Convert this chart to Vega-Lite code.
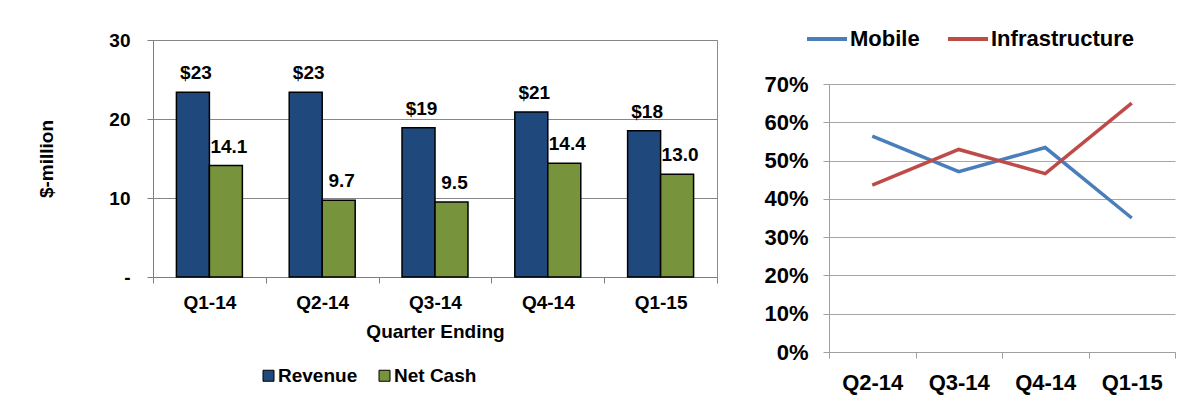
{
  "$schema": "https://vega.github.io/schema/vega-lite/v6.json",
  "padding": {"left": 37, "top": 17, "right": 5, "bottom": 5},
  "background": "white",
  "spacing": 45,
  "config": {"font": "Liberation Sans"},
  "resolve": {"scale": {"color": "independent"}, "legend": {"color": "independent"}},
  "hconcat": [
    {
      "width": 564,
      "height": 237,
      "view": {"stroke": "#8c8c8c"},
      "data": {"values": [
        {"quarter": "Q1-14", "series": "Revenue", "value": 23.4, "label": "$23"},
        {"quarter": "Q1-14", "series": "Net Cash", "value": 14.1, "label": "14.1"},
        {"quarter": "Q2-14", "series": "Revenue", "value": 23.4, "label": "$23"},
        {"quarter": "Q2-14", "series": "Net Cash", "value": 9.7, "label": "9.7"},
        {"quarter": "Q3-14", "series": "Revenue", "value": 18.9, "label": "$19"},
        {"quarter": "Q3-14", "series": "Net Cash", "value": 9.5, "label": "9.5"},
        {"quarter": "Q4-14", "series": "Revenue", "value": 20.9, "label": "$21"},
        {"quarter": "Q4-14", "series": "Net Cash", "value": 14.4, "label": "14.4"},
        {"quarter": "Q1-15", "series": "Revenue", "value": 18.5, "label": "$18"},
        {"quarter": "Q1-15", "series": "Net Cash", "value": 13.0, "label": "13.0"}
      ]},
      "encoding": {
        "x": {
          "field": "quarter", "type": "nominal", "sort": null,
          "scale": {"paddingInner": 0, "paddingOuter": 0},
          "title": "Quarter Ending",
          "axis": {
            "tickBand": "extent", "labelAngle": 0, "grid": false,
            "labelFontSize": 19, "labelFontWeight": "bold", "labelColor": "black",
            "labelPadding": 10, "tickSize": 6, "tickColor": "#7f7f7f", "domainColor": "#7f7f7f",
            "titleFontSize": 19, "titleFontWeight": "bold", "titleColor": "black", "titlePadding": 10
          }
        },
        "xOffset": {
          "field": "series", "type": "nominal", "sort": ["Revenue", "Net Cash"],
          "scale": {"paddingInner": 0, "paddingOuter": 0.71}
        },
        "y": {
          "field": "value", "type": "quantitative",
          "scale": {"domain": [0, 30]},
          "title": "$-million",
          "axis": {
            "values": [0, 10, 20, 30],
            "labelExpr": "datum.value == 0 ? '-' : datum.label",
            "labelFontSize": 19, "labelFontWeight": "bold", "labelColor": "black",
            "labelPadding": 17, "tickSize": 6, "tickColor": "#7f7f7f", "domainColor": "#7f7f7f",
            "gridColor": "#868686", "gridOpacity": 1,
            "titleFontSize": 19, "titleFontWeight": "bold", "titleColor": "black", "titlePadding": 52
          }
        }
      },
      "layer": [
        {
          "mark": {"type": "bar", "stroke": "black", "strokeWidth": 1.5},
          "encoding": {
            "color": {
              "field": "series", "type": "nominal",
              "scale": {"domain": ["Revenue", "Net Cash"], "range": ["#1F497D", "#77933C"]},
              "legend": {
                "orient": "none", "legendX": 106, "legendY": 326, "direction": "horizontal",
                "title": null, "symbolType": "square", "symbolSize": 121,
                "symbolStrokeColor": "black", "symbolStrokeWidth": 1, "symbolOpacity": 1,
                "labelFontSize": 19, "labelFontWeight": "bold", "labelColor": "black",
                "labelOffset": 0, "columnPadding": 17
              }
            }
          }
        },
        {
          "mark": {"type": "text", "baseline": "bottom", "dy": -9, "dx": 3, "fontSize": 19, "fontWeight": "bold", "color": "black"},
          "encoding": {"text": {"field": "label"}}
        }
      ]
    },
    {
      "width": 346,
      "height": 312,
      "view": {"stroke": null},
      "data": {"values": [
        {"quarter": "Q2-14", "series": "Mobile", "share": 0.564},
        {"quarter": "Q3-14", "series": "Mobile", "share": 0.471},
        {"quarter": "Q4-14", "series": "Mobile", "share": 0.534},
        {"quarter": "Q1-15", "series": "Mobile", "share": 0.350},
        {"quarter": "Q2-14", "series": "Infrastructure", "share": 0.436},
        {"quarter": "Q3-14", "series": "Infrastructure", "share": 0.529},
        {"quarter": "Q4-14", "series": "Infrastructure", "share": 0.466},
        {"quarter": "Q1-15", "series": "Infrastructure", "share": 0.650}
      ]},
      "mark": {"type": "line", "strokeWidth": 3.5},
      "encoding": {
        "x": {
          "field": "quarter", "type": "nominal", "sort": null,
          "scale": {"type": "band", "paddingInner": 0, "paddingOuter": 0},
          "title": null,
          "axis": {
            "tickBand": "extent", "labelAngle": 0, "grid": false,
            "labelFontSize": 22, "labelFontWeight": "bold", "labelColor": "black",
            "labelPadding": 14, "tickSize": 6, "tickColor": "#a0a0a0", "domainColor": "#a0a0a0"
          }
        },
        "y": {
          "field": "share", "type": "quantitative",
          "scale": {"domain": [0, 0.7], "range": [312, 44]},
          "title": null,
          "axis": {
            "values": [0, 0.1, 0.2, 0.3, 0.4, 0.5, 0.6, 0.7], "format": ".0%",
            "labelFontSize": 22, "labelFontWeight": "bold", "labelColor": "black",
            "labelPadding": 15, "tickSize": 6, "tickColor": "#a0a0a0", "domainColor": "#a0a0a0",
            "gridColor": "#a6a6a6", "gridOpacity": 1
          }
        },
        "color": {
          "field": "series", "type": "nominal",
          "scale": {"domain": ["Mobile", "Infrastructure"], "range": ["#4A7EBB", "#BE4B48"]},
          "legend": {
            "orient": "none", "legendX": -24, "legendY": -23, "direction": "horizontal",
            "title": null, "symbolType": "stroke", "symbolSize": 1600, "symbolStrokeWidth": 4,
            "labelFontSize": 22, "labelFontWeight": "bold", "labelColor": "black",
            "labelOffset": 1, "columnPadding": 20
          }
        }
      }
    }
  ]
}
